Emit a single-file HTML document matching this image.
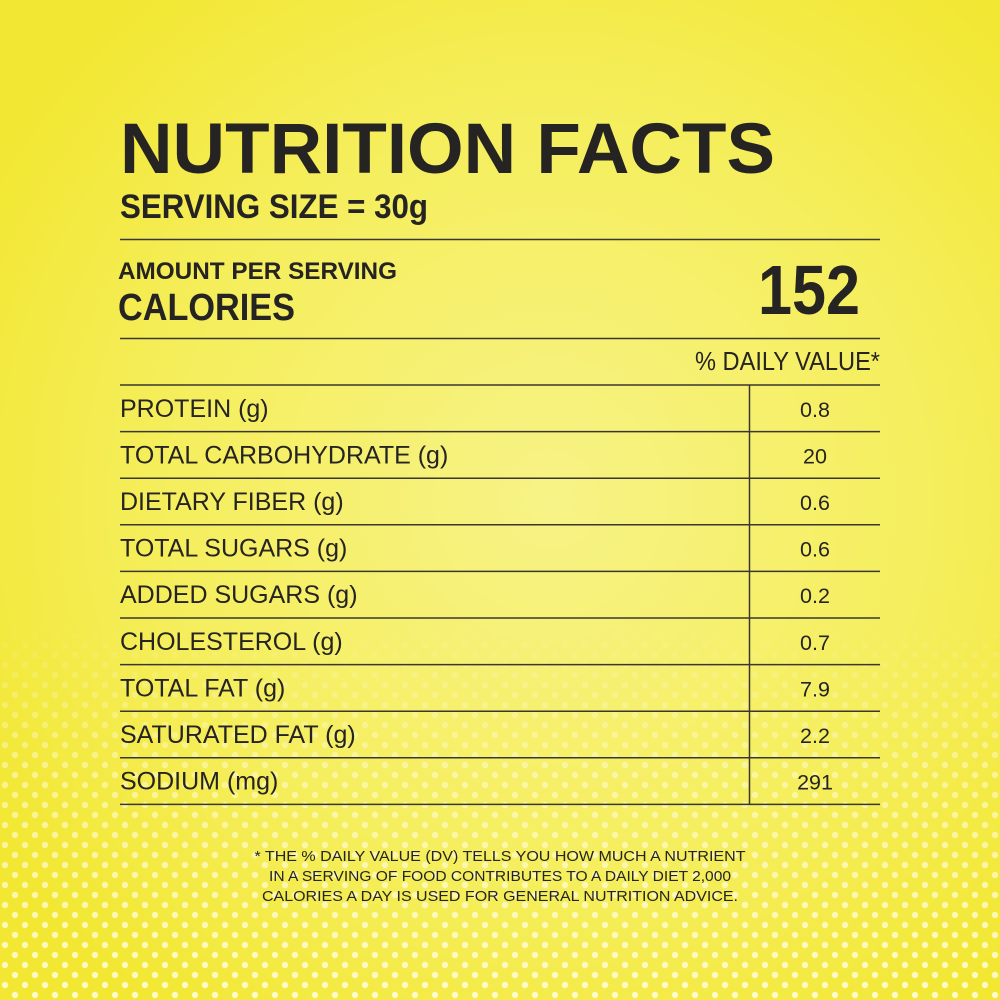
<!DOCTYPE html>
<html><head><meta charset="utf-8"><style>
html,body{margin:0;padding:0}
body{width:1000px;height:1000px;overflow:hidden;background:#f3e93c}
svg{display:block}
text{font-family:"Liberation Sans",sans-serif;fill:#262422}
</style></head><body>
<svg width="1000" height="1000" viewBox="0 0 1000 1000">
<defs>
<radialGradient id="bg" cx="0.55" cy="0.5" r="0.65">
<stop offset="0" stop-color="#f7f386"/>
<stop offset="0.6" stop-color="#f5ee5c"/>
<stop offset="1" stop-color="#f2e732"/>
</radialGradient>
<pattern id="dots" width="20" height="20" patternUnits="userSpaceOnUse">
<circle cx="5" cy="5" r="3.2" fill="#fffbd0"/>
<circle cx="15" cy="15" r="3.2" fill="#fffbd0"/>
</pattern>
<linearGradient id="fade" x1="0" y1="0" x2="0" y2="1">
<stop offset="0" stop-color="#fff" stop-opacity="0"/>
<stop offset="0.4" stop-color="#fff" stop-opacity="0.55"/>
<stop offset="1" stop-color="#fff" stop-opacity="0.95"/>
</linearGradient>
<mask id="m"><rect x="0" y="620" width="1000" height="380" fill="url(#fade)"/></mask>
</defs>
<rect width="1000" height="1000" fill="url(#bg)"/>
<rect x="0" y="620" width="1000" height="380" fill="url(#dots)" mask="url(#m)"/>

<text x="120" y="173" font-size="71" font-weight="bold" textLength="655" lengthAdjust="spacingAndGlyphs">NUTRITION FACTS</text>
<text x="120" y="218" font-size="34" font-weight="bold" textLength="308" lengthAdjust="spacingAndGlyphs">SERVING SIZE = 30g</text>
<line x1="120" y1="239.5" x2="880" y2="239.5" stroke="#3a3630" stroke-width="1.5"/>
<text x="118" y="279" font-size="24" font-weight="bold" textLength="279" lengthAdjust="spacingAndGlyphs">AMOUNT PER SERVING</text>
<text x="118" y="320" font-size="38" font-weight="bold" textLength="177" lengthAdjust="spacingAndGlyphs">CALORIES</text>
<text x="758" y="314" font-size="70" font-weight="bold" textLength="102" lengthAdjust="spacingAndGlyphs">152</text>
<line x1="120" y1="338.5" x2="880" y2="338.5" stroke="#3a3630" stroke-width="1.5"/>
<text x="695" y="370" font-size="26" textLength="185" lengthAdjust="spacingAndGlyphs">% DAILY VALUE*</text>
<g id="rows"></g>
<text x="500" y="861" font-size="15" text-anchor="middle" textLength="491" lengthAdjust="spacingAndGlyphs">* THE % DAILY VALUE (DV) TELLS YOU HOW MUCH A NUTRIENT</text>
<text x="500" y="881" font-size="15" text-anchor="middle" textLength="462" lengthAdjust="spacingAndGlyphs">IN A SERVING OF FOOD CONTRIBUTES TO A DAILY DIET 2,000</text>
<text x="500" y="901" font-size="15" text-anchor="middle" textLength="476" lengthAdjust="spacingAndGlyphs">CALORIES A DAY IS USED FOR GENERAL NUTRITION ADVICE.</text>
</svg>
<script>
const nutrients=["PROTEIN (g)","TOTAL CARBOHYDRATE (g)","DIETARY FIBER (g)","TOTAL SUGARS (g)","ADDED SUGARS (g)","CHOLESTEROL (g)","TOTAL FAT (g)","SATURATED FAT (g)","SODIUM (mg)"];
const values=["0.8","20","0.6","0.6","0.2","0.7","7.9","2.2","291"];
const NS="http://www.w3.org/2000/svg";
const g=document.getElementById('rows');
const top0=385, rowH=46.6;
function mk(t,a){const e=document.createElementNS(NS,t);for(const k in a)e.setAttribute(k,a[k]);g.appendChild(e);return e;}
for(let i=0;i<=nutrients.length;i++){
  const y=top0+i*rowH;
  const l=mk('line',{x1:120,x2:880,y1:y,y2:y,stroke:'#3a3630','stroke-width':1.5});
  
  
}
const v=mk('line',{x1:749.5,x2:749.5,y1:top0,y2:top0+nutrients.length*rowH,stroke:'#3a3630','stroke-width':1.5});


nutrients.forEach((n,i)=>{
  const y=top0+i*rowH+rowH/2+8.5;
  const t=mk('text',{x:120,y:y,'font-size':25});
  t.textContent=n;
  
  
  const tv=mk('text',{x:815,y:y,'font-size':21.5,'text-anchor':'middle'});
  tv.textContent=values[i];
  
  
});
</script>
</body></html>
